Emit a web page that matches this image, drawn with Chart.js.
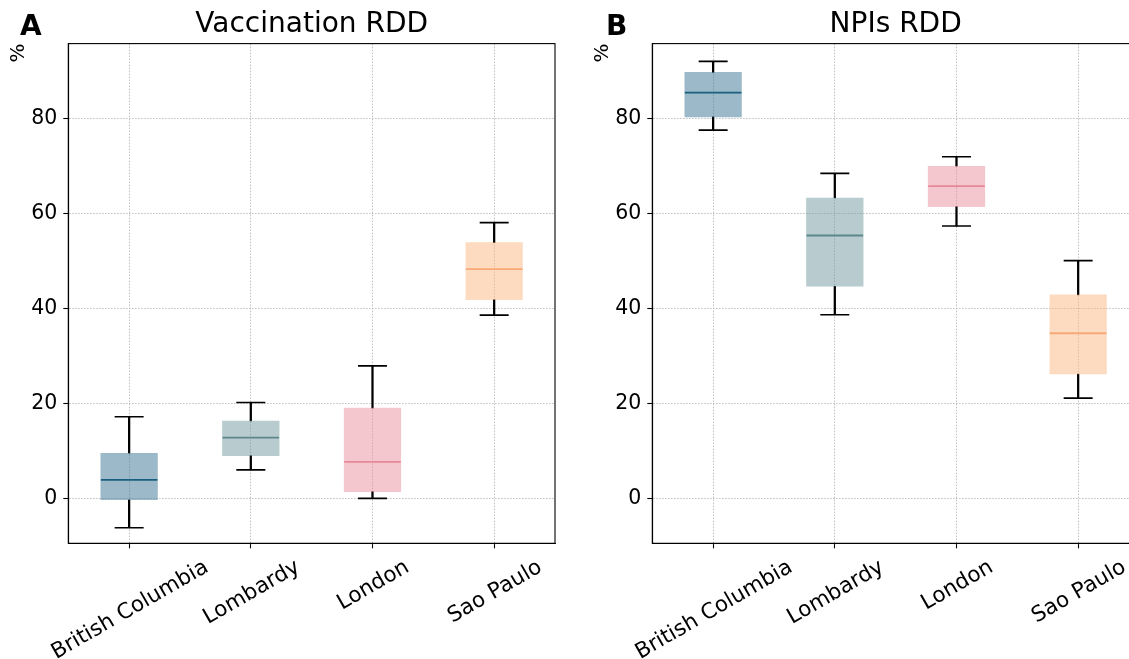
<!DOCTYPE html>
<html>
<head>
<meta charset="utf-8">
<script src="https://cdn.jsdelivr.net/npm/chart.js@4.4.0/dist/chart.umd.min.js"></script>
<style>
  html, body { margin: 0; padding: 0; background: #fff; overflow: hidden; width: 1129px; height: 659px; }
  canvas { position: absolute; top: 0; }
  #chartA { left: 0; }
  #chartB { left: 584px; }
</style>
</head>
<body>
<canvas id="chartA" width="590" height="659"></canvas>
<canvas id="chartB" width="590" height="659"></canvas>
<script>
const categories = ['British Columbia', 'Lombardy', 'London', 'Sao Paulo'];

// panel A - vaccination
const vacLow    = [-6.2,  6.0,  0.0, 38.6];
const vacQ1     = [-0.3,  9.0,  1.4, 41.9];
const vacMedian = [ 3.9, 12.8,  7.7, 48.3];
const vacQ3     = [ 9.5, 16.3, 19.0, 53.9];
const vacHigh   = [17.2, 20.2, 27.9, 58.1];

// panel B - NPIs
const npiLow    = [77.6, 38.7, 57.4, 21.1];
const npiQ1     = [80.4, 44.7, 61.5, 26.2];
const npiMedian = [85.5, 55.4, 65.8, 34.8];
const npiQ3     = [89.8, 63.3, 70.0, 42.9];
const npiHigh   = [92.1, 68.5, 72.0, 50.1];

const yTickValues = [0, 20, 40, 60, 80];
const panelTitles = ['Vaccination RDD', 'NPIs RDD'];
const panelLetters = ['A', 'B'];

const boxColors = ['rgba(55,115,145,0.5)', 'rgba(113,151,157,0.5)', 'rgba(233,141,157,0.5)', 'rgba(251,183,129,0.5)'];
const medianColors = ['#1b5f80', '#5d878c', '#e8879a', '#f7a876'];

const FONT = 'DejaVu Sans';

// frame, panel letter and centred rotated x labels
const panelDecor = {
  id: 'panelDecor',
  afterDraw(chart, args, opts) {
    const ctx = chart.ctx;
    const a = chart.chartArea;
    const xs = chart.scales.x;
    ctx.save();
    ctx.strokeStyle = '#000';
    ctx.lineWidth = 1.1;
    ctx.strokeRect(a.left, a.top, a.right - a.left, a.bottom - a.top);

    ctx.fillStyle = '#000';
    ctx.font = 'bold 28px "' + FONT + '"';
    ctx.textAlign = 'left';
    ctx.textBaseline = 'alphabetic';
    ctx.fillText(opts.letter, opts.letterX, 35);

    const fs = 21.5;
    const ang = Math.PI / 6;
    const h = fs * 1.164;
    const top = a.bottom + 10;
    ctx.font = fs + 'px "' + FONT + '"';
    xs.getLabels().forEach((lab, i) => {
      const px = xs.getPixelForTick(i);
      const w = ctx.measureText(lab).width;
      const bh = w * Math.sin(ang) + h * Math.cos(ang);
      ctx.save();
      ctx.translate(px, top + bh / 2);
      ctx.rotate(-ang);
      ctx.textAlign = 'center';
      ctx.fillText(lab, 0, 0.346 * fs);
      ctx.restore();
    });
    ctx.restore();
  }
};

function makePanel(id, idx, low, q1, med, q3, high) {
  const gridOpts = {
    color: '#b0b0b0',
    lineWidth: 0.8,
    tickColor: '#000',
    tickLength: 5,
    tickWidth: 1.1,
    tickBorderDash: []
  };
  const borderOpts = { display: true, color: '#000', width: 1.1, dash: [1.5, 1.5] };

  return new Chart(document.getElementById(id), {
    type: 'bar',
    data: {
      labels: categories,
      datasets: [
        { type: 'line', data: low, showLine: false, pointStyle: 'line', pointRadius: 14.5,
          pointBorderWidth: 1.7, pointBorderColor: '#000', borderColor: '#000', order: 0 },
        { type: 'line', data: high, showLine: false, pointStyle: 'line', pointRadius: 14.5,
          pointBorderWidth: 1.7, pointBorderColor: '#000', borderColor: '#000', order: 0 },
        { type: 'line', data: med, showLine: false, pointStyle: 'line', pointRadius: 28.3,
          pointBorderWidth: 1.8, pointBorderColor: medianColors, borderColor: '#000', order: 1 },
        { data: categories.map((c, i) => [q1[i], q3[i]]), backgroundColor: boxColors,
          barThickness: 56.6, grouped: false, order: 2 },
        { data: categories.map((c, i) => [low[i], q1[i]]), backgroundColor: '#000',
          barThickness: 1.6, grouped: false, order: 3 },
        { data: categories.map((c, i) => [q3[i], high[i]]), backgroundColor: '#000',
          barThickness: 1.6, grouped: false, order: 3 }
      ]
    },
    options: {
      responsive: false,
      animation: false,
      devicePixelRatio: 1,
      layout: { padding: { left: 0, right: 35, top: 0, bottom: 0 } },
      plugins: {
        legend: { display: false },
        tooltip: { enabled: false },
        title: {
          display: true,
          text: panelTitles[idx],
          fullSize: false,
          color: '#000',
          font: { family: FONT, size: 28, weight: 'normal' },
          padding: { top: 8, bottom: 2 }
        },
        panelDecor: { letter: panelLetters[idx], letterX: idx === 0 ? 20 : 22 }
      },
      scales: {
        x: {
          offset: true,
          grid: Object.assign({ offset: false }, gridOpts),
          border: borderOpts,
          ticks: { display: false },
          afterFit(s) { s.height = 115.7; }
        },
        y: {
          min: -9.48,
          max: 95.85,
          afterBuildTicks(s) { s.ticks = yTickValues.map(v => ({ value: v })); },
          ticks: { color: '#000', font: { family: FONT, size: 20.5 }, padding: 6 },
          grid: gridOpts,
          border: borderOpts,
          title: {
            display: true, text: '%', align: 'end', color: '#000',
            font: { family: FONT, size: 20 }, padding: { top: 7, bottom: 0 }
          },
          afterFit(s) { s.width = 68.3; }
        }
      }
    },
    plugins: [panelDecor]
  });
}

makePanel('chartA', 0, vacLow, vacQ1, vacMedian, vacQ3, vacHigh);
makePanel('chartB', 1, npiLow, npiQ1, npiMedian, npiQ3, npiHigh);
</script>
</body>
</html>
